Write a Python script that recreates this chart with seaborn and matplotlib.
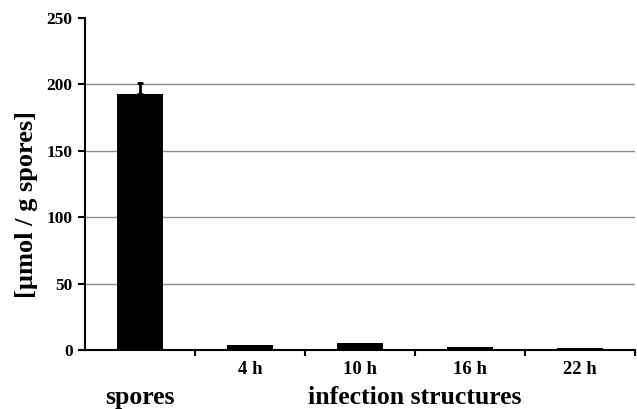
import matplotlib
matplotlib.use("Agg")
import matplotlib.pyplot as plt
import seaborn as sns
import pandas as pd
import matplotlib.transforms as mtransforms

categories = ["spores", "4 h", "10 h", "16 h", "22 h"]
values = [192.5, 4.0, 5.5, 2.5, 1.5]
errors = [8.5, 0.0, 0.0, 0.0, 0.0]
tick_labels = ["", "4 h", "10 h", "16 h", "22 h"]
y_ticks = [0, 50, 100, 150, 200, 250]

sns.set_theme(style="white")
plt.rcParams["font.family"] = ["Liberation Serif", "DejaVu Serif"]
plt.rcParams["font.weight"] = "bold"
for k in ["text.color", "axes.labelcolor", "xtick.color", "ytick.color"]:
    plt.rcParams[k] = "black"

df = pd.DataFrame({"cat": categories, "val": values})

fig = plt.figure(figsize=(6.37, 4.09), dpi=100)
ax = fig.add_axes([85 / 637, 1 - 350 / 409, 550 / 637, 332 / 409])

ax.set_axisbelow(True)
for t in y_ticks[1:-1]:
    ax.axhline(t, color="#8c8c8c", lw=1.0, zorder=0)

sns.barplot(data=df, x="cat", y="val", color="black", saturation=1,
            width=0.42, ax=ax, errorbar=None, zorder=2, linewidth=0)
xs = list(range(len(categories)))
ax.errorbar(xs[:1], values[:1], yerr=[[0], errors[:1]], fmt="none",
            ecolor="black", elinewidth=2, capsize=2.5, capthick=2, zorder=3)

ax.set_xlim(-0.5, 4.5)
ax.set_ylim(0, 250)
ax.set_yticks(y_ticks)
ax.set_yticklabels([str(v) for v in y_ticks], fontsize=12.5, fontweight="bold")
ax.set_xticks(xs)
ax.set_xticklabels(tick_labels, fontsize=13.5, fontweight="bold")
ax.set_xticks([0.5, 1.5, 2.5, 3.5, 4.5], minor=True)
ax.tick_params(axis="x", which="major", bottom=True, length=0, pad=8)
ax.tick_params(axis="x", which="minor", bottom=True, length=4, width=1.5,
               direction="out", color="black")
ax.tick_params(axis="y", which="major", left=True, length=5, width=1.5,
               direction="out", color="black", pad=4)

ax.set_xlabel("")
ax.set_ylabel("[µmol / g spores]", fontsize=19, fontweight="bold")
ax.yaxis.set_label_coords((38 - 85) / 550, (350 - 205) / 332)

for side in ["top", "right"]:
    ax.spines[side].set_visible(False)
for side in ["left", "bottom"]:
    ax.spines[side].set_color("black")
    ax.spines[side].set_linewidth(1.5)

trans = mtransforms.blended_transform_factory(ax.transData, fig.transFigure)
ax.text(0.0, 0.027, "spores", transform=trans, ha="center", va="center",
        fontsize=18.5, fontweight="bold")
ax.text(2.5, 0.027, "infection structures", transform=trans, ha="center",
        va="center", fontsize=18.5, fontweight="bold")

fig.savefig("out.png", dpi=100)
